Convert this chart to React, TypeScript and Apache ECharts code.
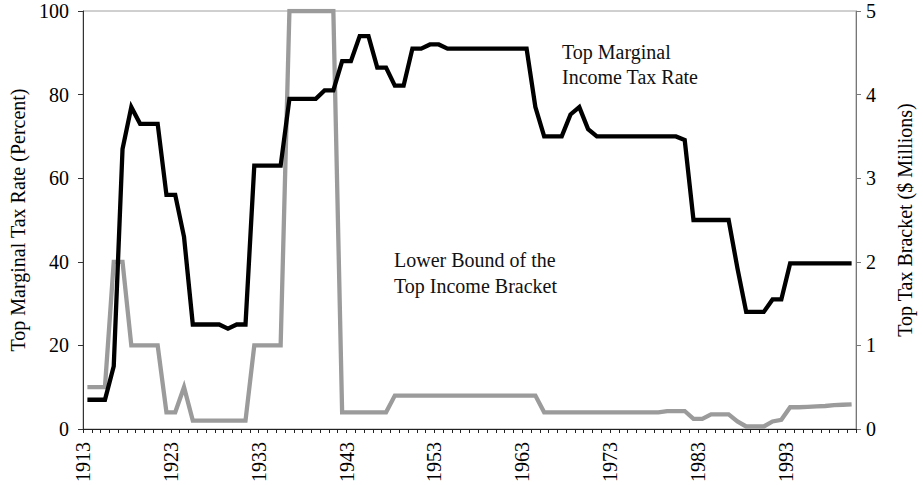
import React, { useEffect, useRef } from "react";
import * as echarts from "echarts";

// Years of data (each year's value sits in the middle of its year slot)
const dataYears: string[] = [];
for (let y = 1913; y <= 2000; y++) dataYears.push(String(y));

// Tick labels along the bottom (boundaries between years)
const tickYears: string[] = [];
for (let y = 1913; y <= 2001; y++) tickYears.push(String(y));

// Top marginal income tax rate (percent), 1913-2000
const topRate: number[] = [
  7, 7, 7, 15, 67, 77, 73, 73, 73, 56, // 1913-1922
  56, 46, 25, 25, 25, 25, 24, 25, 25, 63, // 1923-1932
  63, 63, 63, 79, 79, 79, 79, 81, 81, 88, // 1933-1942
  88, 94, 94, 86.45, 86.45, 82.13, 82.13, 91, 91, 92, // 1943-1952
  92, 91, 91, 91, 91, 91, 91, 91, 91, 91, // 1953-1962
  91, 77, 70, 70, 70, 75.25, 77, 71.75, 70, 70, // 1963-1972
  70, 70, 70, 70, 70, 70, 70, 70, 69.13, 50, // 1973-1982
  50, 50, 50, 50, 38.5, 28, 28, 28, 31, 31, // 1983-1992
  39.6, 39.6, 39.6, 39.6, 39.6, 39.6, 39.6, 39.6, // 1993-2000
];

// Lower bound of the top income bracket ($ millions), 1913-2000
const topBracket: number[] = [
  0.5, 0.5, 0.5, 2, 2, 1, 1, 1, 1, 0.2, // 1913-1922
  0.2, 0.5, 0.1, 0.1, 0.1, 0.1, 0.1, 0.1, 0.1, 1, // 1923-1932
  1, 1, 1, 5, 5, 5, 5, 5, 5, 0.2, // 1933-1942
  0.2, 0.2, 0.2, 0.2, 0.2, 0.4, 0.4, 0.4, 0.4, 0.4, // 1943-1952
  0.4, 0.4, 0.4, 0.4, 0.4, 0.4, 0.4, 0.4, 0.4, 0.4, // 1953-1962
  0.4, 0.4, 0.2, 0.2, 0.2, 0.2, 0.2, 0.2, 0.2, 0.2, // 1963-1972
  0.2, 0.2, 0.2, 0.2, 0.2, 0.2, 0.215, 0.215, 0.215, 0.12, // 1973-1982
  0.12, 0.175, 0.175, 0.175, 0.09, 0.03, 0.03, 0.03, 0.09, 0.11, // 1983-1992
  0.26, 0.26, 0.265, 0.27, 0.275, 0.285, 0.29, 0.295, // 1993-2000
];

const leftName = "Top Marginal Tax Rate (Percent)";
const rightName = "Top Tax Bracket ($ Millions)";
const rateLabel = "Top Marginal\nIncome Tax Rate";
const bracketLabel = "Lower Bound of the\nTop Income Bracket";

const FONT = "'Liberation Serif', 'Times New Roman', serif";

export default function App() {
  const ref = useRef<HTMLDivElement>(null);

  useEffect(() => {
    if (!ref.current) return;
    const chart = echarts.init(ref.current, null, { renderer: "svg" });
    chart.setOption({
      animation: false,
      backgroundColor: "#ffffff",
      textStyle: { fontFamily: FONT },
      grid: {
        left: 82,
        right: 61,
        top: 11,
        bottom: 55,
        show: true,
        borderColor: "#a0a0a0",
        borderWidth: 1,
        backgroundColor: "transparent",
      },
      xAxis: [
        {
          type: "category",
          data: dataYears,
          boundaryGap: true,
          show: false,
        },
        {
          type: "category",
          data: tickYears,
          boundaryGap: false,
          position: "bottom",
          axisLine: { show: true, lineStyle: { color: "#222", width: 1 } },
          axisTick: {
            show: true,
            interval: 0,
            length: 4,
            lineStyle: { color: "#222", width: 1 },
          },
          axisLabel: {
            interval: 9,
            rotate: 90,
            margin: 13,
            color: "#000",
            fontSize: 20,
            fontFamily: FONT,
          },
          splitLine: { show: false },
        },
      ],
      yAxis: [
        {
          type: "value",
          min: 0,
          max: 100,
          interval: 20,
          position: "left",
          name: leftName,
          nameLocation: "middle",
          nameRotate: 90,
          nameGap: 55,
          nameTextStyle: { color: "#000", fontSize: 20, fontFamily: FONT },
          axisLine: { show: true, lineStyle: { color: "#333", width: 1 } },
          axisTick: { show: true, length: 5, lineStyle: { color: "#333" } },
          axisLabel: { color: "#000", fontSize: 20, margin: 14, fontFamily: FONT },
          splitLine: { show: false },
        },
        {
          type: "value",
          min: 0,
          max: 5,
          interval: 1,
          position: "right",
          name: rightName,
          nameLocation: "middle",
          nameRotate: 90,
          nameGap: 39,
          nameTextStyle: { color: "#000", fontSize: 20, fontFamily: FONT },
          axisLine: { show: true, lineStyle: { color: "#777", width: 1 } },
          axisTick: { show: true, length: 5, lineStyle: { color: "#777" } },
          axisLabel: { color: "#000", fontSize: 20, margin: 10, fontFamily: FONT },
          splitLine: { show: false },
        },
      ],
      series: [
        {
          name: "Lower Bound of the Top Income Bracket",
          type: "line",
          xAxisIndex: 0,
          yAxisIndex: 1,
          data: topBracket,
          showSymbol: false,
          symbol: "none",
          lineStyle: { color: "#9b9b9b", width: 4.3, join: "miter" },
          z: 2,
        },
        {
          name: "Top Marginal Income Tax Rate",
          type: "line",
          xAxisIndex: 0,
          yAxisIndex: 0,
          data: topRate,
          showSymbol: false,
          symbol: "none",
          lineStyle: { color: "#000", width: 4.3, join: "miter" },
          z: 3,
        },
      ],
      graphic: [
        {
          type: "text",
          left: 562,
          top: 39,
          style: {
            text: rateLabel,
            fill: "#111",
            font: `20px ${FONT}`,
            lineHeight: 25,
          },
        },
        {
          type: "text",
          left: 394,
          top: 247,
          style: {
            text: bracketLabel,
            fill: "#111",
            font: `20px ${FONT}`,
            lineHeight: 26,
          },
        },
      ],
    });
    return () => chart.dispose();
  }, []);

  return (
    <div
      ref={ref}
      style={{ position: "absolute", left: 0, top: 0, width: 923, height: 485 }}
    />
  );
}
